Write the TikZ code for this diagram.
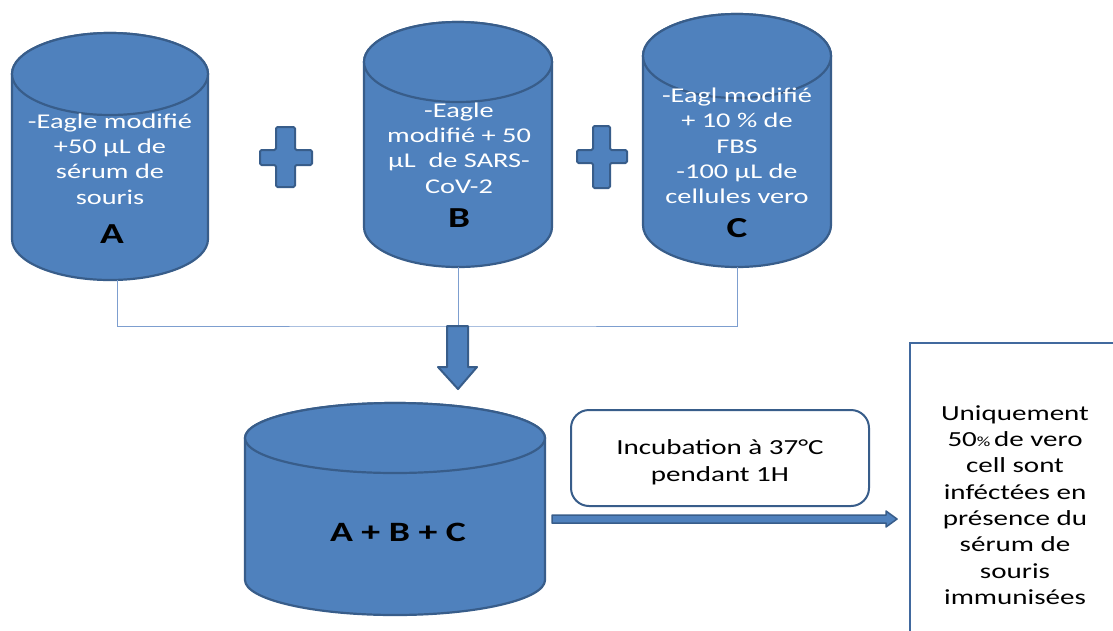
\documentclass[tikz,border=0pt]{standalone}
\usepackage{fontspec}
\setmainfont{Carlito}[FakeStretch=1.35]
\definecolor{cfill}{HTML}{4F81BD}
\definecolor{cline}{HTML}{385D8A}
\definecolor{conncol}{HTML}{7D9ECF}
\definecolor{boxline}{HTML}{41699E}
\tikzset{
  cyl/.style={fill=cfill, draw=cline, line width=2.2pt, line join=round},
  blk/.style={fill=cfill, draw=cline, line width=2pt, line join=round},
  conn/.style={draw=conncol, line width=1pt},
  cyltext/.style={text=white, align=center, font=\fontsize{21}{25.3}\selectfont, inner sep=0pt},
  letter/.style={text=black, font=\fontsize{29}{30}\selectfont\bfseries, inner sep=0pt},
  incbox/.style={draw=cline, line width=2pt, fill=white, rounded corners=18pt, minimum width=298pt, minimum height=96pt},
  plaintext/.style={text=black, align=center, inner sep=0pt},
}
\newcommand\cylinder[6]{% name, cx, top-centre y, bottom-centre y, rx, ry
  \filldraw[cyl] (#2-#5,-#3) -- (#2-#5,-#4)
    arc[start angle=180,end angle=360,x radius=#5pt,y radius=#6pt]
    -- (#2+#5,-#3)
    arc[start angle=0,end angle=180,x radius=#5pt,y radius=#6pt] -- cycle;
  \draw[cyl] (#2,-#3) ellipse[x radius=#5pt,y radius=#6pt];
  \coordinate (#1-bot) at (#2,-#4-#6);
}
\begin{document}
\begin{tikzpicture}[x=1pt,y=1pt]
\clip (0,0) rectangle (1113,-630);
\fill[white] (0,0) rectangle (1113,-630);

% top cylinders
\cylinder{A}{110}{74}{239}{98}{41}
\cylinder{B}{458}{62}{227}{94}{40}
\cylinder{C}{737}{56}{225}{94}{42}

\node[cyltext] (tA) at (110,-159) {-Eagle modifié\\+50 µL de\\sérum de\\souris};
\node[letter] (lA) at (112,-234) {A};
\node[cyltext] (tB) at (459,-148) {-Eagle\\modifié + 50\\µL\ \ de SARS-\\CoV-2};
\node[letter] (lB) at (459,-218) {B};
\node[cyltext] (tC) at (737,-146) {-Eagl modifié\\+ 10 \% de\\FBS\\-100 µL de\\cellules vero};
\node[letter] (lC) at (737,-228) {C};

% plus signs
\filldraw[blk, rounded corners=1.5pt] (276,-127) -- (295,-127) -- (295,-150) -- (312,-150) -- (312,-165) -- (295,-165) -- (295,-187) -- (276,-187) -- (276,-165) -- (260,-165) -- (260,-150) -- (276,-150) -- cycle;
\filldraw[blk, rounded corners=1.5pt] (593,-126) -- (610,-126) -- (610,-150) -- (627,-150) -- (627,-163) -- (610,-163) -- (610,-188) -- (593,-188) -- (593,-163) -- (577,-163) -- (577,-150) -- (593,-150) -- cycle;

% connectors
\coordinate (Aout) at (117,-280);
\coordinate (J) at (458,-326);
\draw[conn] (Aout) |- (J) -| (C-bot);
\draw[conn] (B-bot) -- (J);

% down block arrow
\filldraw[blk] (447,-326) -- (468,-326) -- (468,-367) -- (477,-367) -- (458,-389) -- (438,-367) -- (447,-367) -- cycle;

% bottom cylinder
\cylinder{D}{395}{438}{580}{150}{35}
\node[letter, font=\fontsize{28}{30}\selectfont\bfseries] (tD) at (398,-532) {A + B + C};

% incubation box
\node[incbox] (inc) at (720,-458) {};
\node[plaintext, font=\fontsize{21.5}{27}\selectfont] (incT) at (720,-462) {Incubation à 37°C\\pendant 1H};

% right block arrow
\filldraw[blk, line width=1.5pt] (552,-515) -- (886,-515) -- (886,-511) -- (897,-519) -- (886,-527) -- (886,-523) -- (552,-523) -- cycle;

% result box
\coordinate (R1) at (910,-640);
\coordinate (R2) at (1130,-343);
\draw[draw=boxline, line width=2.5pt] (R1) |- (R2);
\node[plaintext, font=\fontsize{21.5}{26.3}\selectfont] (res) at (1015,-505) {Uniquement\\50{\fontsize{14}{14}\selectfont\%}\,de vero\\cell sont\\inféctées en\\présence du\\sérum de\\souris\\immunisées};
\end{tikzpicture}
\end{document}
